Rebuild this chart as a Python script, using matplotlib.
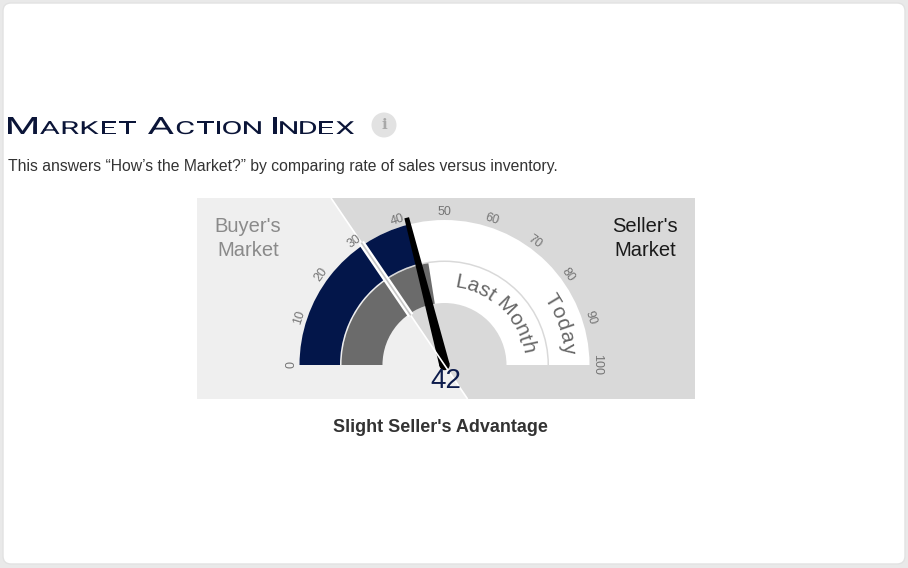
import numpy as np
import matplotlib
matplotlib.use("Agg")
import matplotlib.pyplot as plt
from matplotlib.patches import Wedge, Polygon, Rectangle, FancyBboxPatch, Circle, PathPatch
from matplotlib.textpath import TextPath
from matplotlib.font_manager import FontProperties
from matplotlib.transforms import Affine2D

# data
today_value = 42
last_month_value = 45
split_value = 31          # buyer's / seller's market boundary
tick_values = list(range(0, 101, 10))
tick_labels = [str(v) for v in tick_values]
title = "Market Action Index"
subtitle = "This answers \u201cHow\u2019s the Market?\u201d by comparing rate of sales versus inventory."
verdict = "Slight Seller's Advantage"

W, H = 908, 568
NAVY = "#03164a"
GRAY = "#6b6b6b"
LIGHT_BG = "#efefef"
DARK_BG = "#d9d9d9"

fig = plt.figure(figsize=(W / 100, H / 100), dpi=100, facecolor="#e9e9e9")
ax = fig.add_axes([0, 0, 1, 1])
ax.set_xlim(0, W)
ax.set_ylim(0, H)
ax.axis("off")
fig.canvas.draw()
renderer = fig.canvas.get_renderer()


def Y(y):
    # pixel row (from top) -> axis y
    return H - y


def ang(v):
    return 180 - 1.8 * v


def polar(r, v):
    t = np.radians(ang(v))
    return cx + r * np.cos(t), cy + r * np.sin(t)


card = FancyBboxPatch((3, Y(564)), 902, 561, boxstyle="round,pad=0,rounding_size=8",
                      facecolor="white", edgecolor="#e2e2e2", lw=1)
ax.add_patch(card)

# ---- title in extended small caps (glyph outlines stretched sideways)
fp = FontProperties(family="Roboto", weight="normal")
big_cap, small_cap = 17.0, 12.8          # cap heights in px
cap_ratio = 0.711
glyphs = []
for wi, word in enumerate(title.split(" ")):
    for i, ch in enumerate(word.upper()):
        size = (big_cap if i == 0 else small_cap) / cap_ratio
        p = TextPath((0, 0), ch, size=size, prop=fp)
        ext = p.get_extents()
        glyphs.append([p, ext.x0, ext.width, False])
    if wi < 2:
        glyphs.append([None, 0, 0, True])
letter_gap, space_w = 3.2, 9.0
n_gaps = sum(1 for g in glyphs if not g[3]) - 1
natural = sum(g[2] for g in glyphs)
stretch = (354 - 8 - letter_gap * n_gaps - 2 * space_w) / natural
x = 8
base = Y(134)
for p, x0, w, is_space in glyphs:
    if is_space:
        x += space_w
        continue
    tr = Affine2D().translate(-x0, 0).scale(stretch, 1).translate(x, base)
    ax.add_patch(PathPatch(tr.transform_path(p), facecolor="#0b1538", edgecolor="none"))
    x += w * stretch + letter_gap

ax.add_patch(Circle((384, Y(125)), 12.5, facecolor="#e2e2e2", edgecolor="none"))
ax.text(384, Y(125), "i", fontsize=11, family="DejaVu Serif", color="#a8a8a8",
        ha="center", va="center", fontweight="bold")

ax.text(8, Y(171), subtitle, fontsize=11.3, family="Liberation Sans", color="#333333",
        ha="left", va="baseline")

# ---- gauge panel
px0, px1 = 197, 695
py_top, py_bot = Y(198), Y(399)
cx, cy = 444.5, Y(365)
r_out, r_mid_o, r_mid_i, r_in = 145, 104.5, 103, 62

t_split = np.radians(ang(split_value))
k_top = (py_top - cy) / np.sin(t_split)
k_bot = (py_bot - cy) / np.sin(t_split)
x_top = cx + k_top * np.cos(t_split)
x_bot = cx + k_bot * np.cos(t_split)

ax.add_patch(Rectangle((px0, py_bot), px1 - px0, py_top - py_bot, facecolor=DARK_BG, edgecolor="none"))
ax.add_patch(Polygon([(px0, py_top), (x_top, py_top), (x_bot, py_bot), (px0, py_bot)],
                     closed=True, facecolor=LIGHT_BG, edgecolor="none"))
ax.plot([x_top, x_bot], [py_top, py_bot], color="white", lw=1.2, solid_capstyle="butt")

# today band
ax.add_patch(Wedge((cx, cy), r_out, ang(100), ang(0), width=r_out - r_mid_o,
                   facecolor="white", edgecolor="none"))
ax.add_patch(Wedge((cx, cy), r_out, ang(today_value), ang(0), width=r_out - r_mid_o,
                   facecolor=NAVY, edgecolor="none"))
# last month band
ax.add_patch(Wedge((cx, cy), r_mid_i, ang(100), ang(0), width=r_mid_i - r_in,
                   facecolor="white", edgecolor="none"))
ax.add_patch(Wedge((cx, cy), r_mid_i, ang(last_month_value), ang(0), width=r_mid_i - r_in,
                   facecolor=GRAY, edgecolor="none"))

# split marker through the bands
x0, y0 = polar(r_in - 2, split_value)
x1, y1 = polar(r_out + 3, split_value)
ax.plot([x0, x1], [y0, y1], color="white", lw=4.5, solid_capstyle="butt")
ax.plot([x0, x1], [y0, y1], color="#c8c8c8", lw=1.2, solid_capstyle="butt")

# tick labels
for v, lab in zip(tick_values, tick_labels):
    tx, ty = polar(153, v)
    ax.text(tx, ty, lab, fontsize=9, family="Liberation Sans", color="#747474",
            rotation=ang(v) - 90, ha="center", va="center", rotation_mode="anchor")


def arc_text(s, r, a_start, a_end, size, color):
    items = []
    for ch in s:
        t = ax.text(0, 0, ch, fontsize=size, family="Liberation Sans", color=color,
                    ha="center", va="center", rotation_mode="anchor")
        items.append(t)
    ws = []
    for ch, t in zip(s, items):
        ws.append(size * 0.38 if ch == " " else t.get_window_extent(renderer).width)
    ws = np.array(ws)
    centers = np.cumsum(ws) - ws / 2
    centers = centers - centers[0]
    span = centers[-1] if centers[-1] > 0 else 1
    for c, t in zip(centers, items):
        a = a_start + (a_end - a_start) * c / span
        ar = np.radians(a)
        t.set_position((cx + r * np.cos(ar), cy + r * np.sin(ar)))
        t.set_rotation(a - 90)


arc_text("Last Month", 84, 79, 12, 15, "#666666")
arc_text("Today", 124.5, 31, 8, 15, "#666666")

# needle
tn = np.radians(ang(today_value))
ux, uy = np.cos(tn), np.sin(tn)
nx, ny = -uy, ux
base_w, tip_w, tip_r = 5.2, 2.4, 152
needle = Polygon([(cx + nx * base_w, cy + ny * base_w),
                  (cx + ux * tip_r + nx * tip_w, cy + uy * tip_r + ny * tip_w),
                  (cx + ux * tip_r - nx * tip_w, cy + uy * tip_r - ny * tip_w),
                  (cx - nx * base_w, cy - ny * base_w)], closed=True,
                 facecolor="black", edgecolor="none")
ax.add_patch(needle)
ax.add_patch(Circle((cx, cy), base_w, facecolor="black", edgecolor="none"))

ax.text(446, Y(381), str(today_value), fontsize=20, family="Liberation Sans", color="#0d1c4c",
        ha="center", va="center")

# market labels
for lx, col, lines in [(248, "#8a8a8a", ("Buyer's", "Market")),
                       (645, "#1a1a1a", ("Seller's", "Market"))]:
    ax.text(lx, Y(226), lines[0], fontsize=14.5, family="Liberation Sans", color=col,
            ha="center", va="center")
    ax.text(lx, Y(250), lines[1], fontsize=14.5, family="Liberation Sans", color=col,
            ha="center", va="center")

ax.text(440, Y(428), verdict, fontsize=13, family="Liberation Sans", fontweight="bold",
        color="#333333", ha="center", va="center")

fig.savefig("out.png", dpi=100, facecolor=fig.get_facecolor())
